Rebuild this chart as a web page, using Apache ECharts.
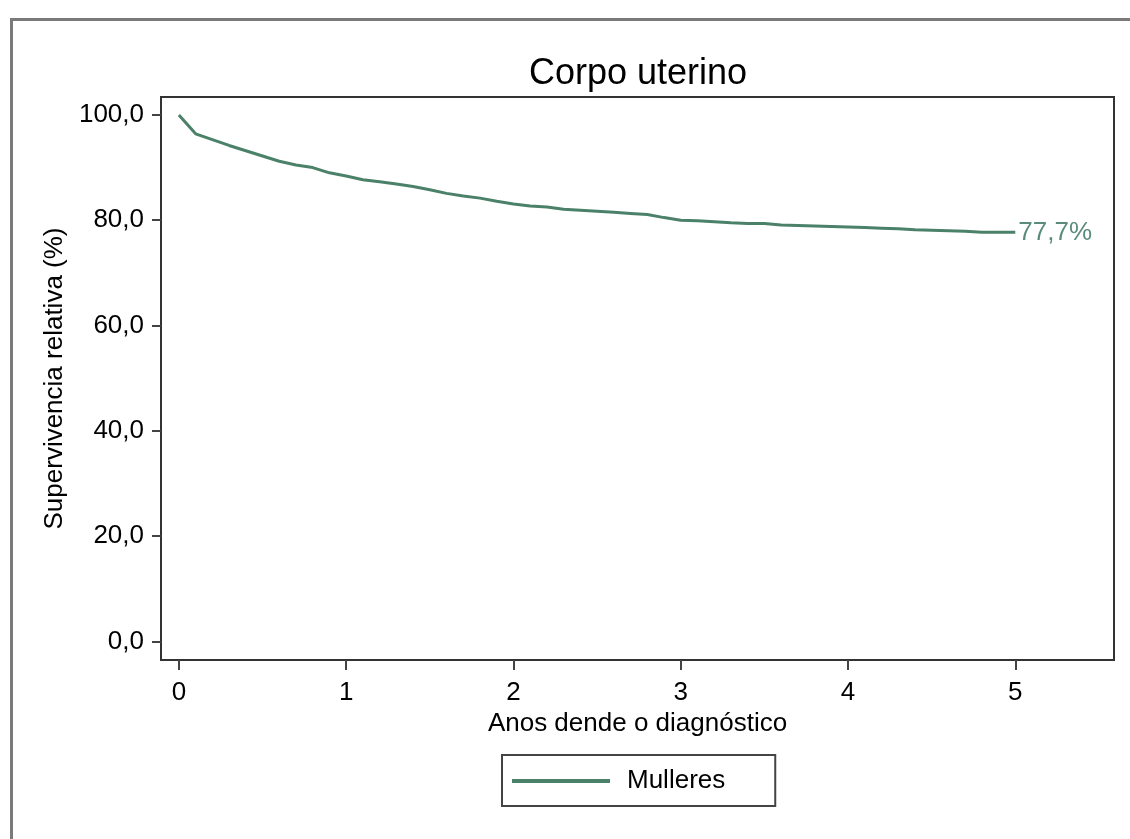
<!DOCTYPE html>
<html>
<head>
<meta charset="utf-8">
<script src="https://cdn.jsdelivr.net/npm/echarts@6/dist/echarts.min.js"></script>
<style>
html,body{margin:0;padding:0;background:#fff;}
#chart{width:1130px;height:839px;}
</style>
</head>
<body>
<div id="chart"></div>
<script>
const titleText = 'Corpo uterino';
const seriesName = 'Mulleres';
const xTicks = [0, 1, 2, 3, 4, 5];
const yTicks = [0, 20, 40, 60, 80, 100];
const years = [0,0.1,0.2,0.3,0.4,0.5,0.6,0.7,0.8,0.9,1.0,1.1,1.2,1.3,1.4,1.5,1.6,1.7,1.8,1.9,2.0,2.1,2.2,2.3,2.4,2.5,2.6,2.7,2.8,2.9,3.0,3.1,3.2,3.3,3.4,3.5,3.6,3.7,3.8,3.9,4.0,4.1,4.2,4.3,4.4,4.5,4.6,4.7,4.8,4.9,5.0];
const survival = [100,96.4,95.3,94.2,93.2,92.2,91.2,90.5,90.0,89.0,88.4,87.7,87.3,86.9,86.4,85.8,85.1,84.6,84.2,83.6,83.1,82.7,82.5,82.1,81.9,81.7,81.5,81.3,81.1,80.5,80.0,79.9,79.7,79.5,79.4,79.4,79.1,79.0,78.9,78.8,78.7,78.6,78.5,78.4,78.2,78.1,78.0,77.9,77.7,77.7,77.7];
const endLabelText = '77,7%';

const FONT = '"Liberation Sans", Arial, sans-serif';
const chart = echarts.init(document.getElementById('chart'), null, {renderer: 'canvas'});
chart.setOption({
  animation: false,
  backgroundColor: '#fff',
  title: {
    text: titleText,
    left: 633, top: 51, textAlign: 'center',
    textStyle: {fontFamily: FONT, fontSize: 36, fontWeight: 'normal', color: '#000'}
  },
  graphic: [{
    type: 'rect', left: 9, top: 17, z: -1,
    shape: {x: 0, y: 0, width: 1200, height: 900},
    style: {fill: 'none', stroke: '#7a7a7a', lineWidth: 3}
  }],
  grid: {
    left: 161, top: 97, right: 16, bottom: 179,
    show: true, borderColor: '#333', borderWidth: 2, backgroundColor: '#fff'
  },
  legend: {
    left: 502, top: 755,
    data: [seriesName],
    icon: 'rect', itemWidth: 98, itemHeight: 4, itemGap: 10,
    padding: [13, 50, 12, 10],
    borderColor: '#444', borderWidth: 2,
    textStyle: {fontFamily: FONT, fontSize: 26, color: '#000', padding: [0, 0, 0, 12]}
  },
  xAxis: {
    type: 'value', min: -0.107, max: 5.59,
    name: 'Anos dende o diagnóstico', nameLocation: 'middle', nameGap: 50,
    nameTextStyle: {fontFamily: FONT, fontSize: 26, color: '#000'},
    axisLine: {show: true, onZero: false, lineStyle: {color: '#333', width: 2}},
    axisTick: {show: true, customValues: xTicks, length: 10, lineStyle: {color: '#444', width: 2}},
    axisLabel: {customValues: xTicks, margin: 20, fontFamily: FONT, fontSize: 26, color: '#000',
      formatter: v => String(v)},
    splitLine: {show: false}
  },
  yAxis: {
    type: 'value', min: -3.5, max: 103.4,
    name: 'Supervivencia relativa (%)', nameLocation: 'middle', nameGap: 92,
    nameTextStyle: {fontFamily: FONT, fontSize: 26, color: '#000'},
    axisLine: {show: true, onZero: false, lineStyle: {color: '#333', width: 2}},
    axisTick: {show: true, customValues: yTicks, length: 9, lineStyle: {color: '#444', width: 2}},
    axisLabel: {customValues: yTicks, margin: 17, fontFamily: FONT, fontSize: 26, color: '#000',
      formatter: v => v.toFixed(1).replace('.', ',')},
    splitLine: {show: false}
  },
  series: [{
    name: seriesName,
    type: 'line',
    data: years.map((t, i) => [t, survival[i]]),
    showSymbol: false, symbol: 'none',
    lineStyle: {color: '#4b8069', width: 3},
    itemStyle: {color: '#4b8069'},
    endLabel: {show: true, formatter: endLabelText, distance: 3,
      fontFamily: FONT, fontSize: 26, color: '#5b8c7a'}
  }]
});
</script>
</body>
</html>
